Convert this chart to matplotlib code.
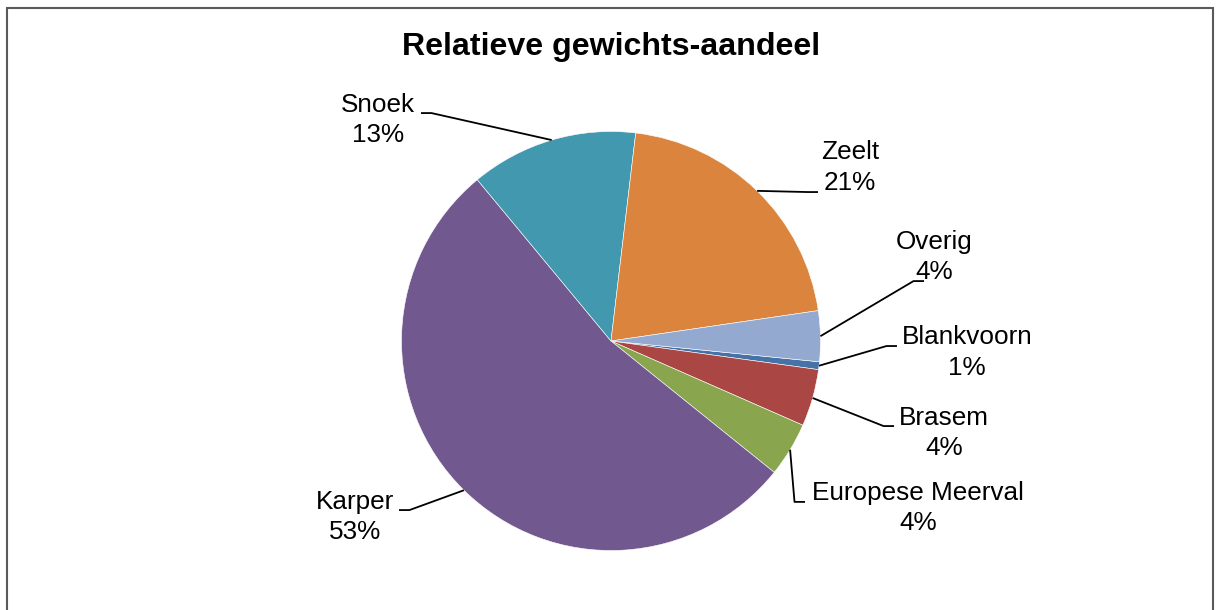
import numpy as np
import matplotlib
matplotlib.use("Agg")
import matplotlib.pyplot as plt
from matplotlib.patches import Rectangle

plt.rcParams['font.family'] = ['Liberation Sans', 'DejaVu Sans']

# gewichts-aandeel per soort (%), in volgorde van de gegevens
soorten = ['Blankvoorn', 'Brasem', 'Europese Meerval', 'Karper', 'Snoek', 'Zeelt', 'Overig']
aandeel = [0.6, 4.4, 4.2, 53.2, 12.9, 20.8, 3.9]
kleuren = ['#4572A7', '#AA4643', '#89A54E', '#71588F', '#4198AF', '#DB843D', '#93A9CF']

# plaats van de labels (midden van het tekstblok) en eind van de verbindingslijn
label_pos = [(1.699, -0.055), (1.589, -0.439), (1.465, -0.797), (-1.222, -0.838),
             (-1.112, 1.055), (1.141, 0.828), (1.542, 0.399)]
lijn_eind = [(1.365, -0.024), (1.351, -0.406), (0.926, -0.768), (-1.012, -0.807),
             (-0.907, 1.088), (0.988, 0.711), (1.494, 0.286)]

W, H = 1219, 610
fig = plt.figure(figsize=(W / 100, H / 100), dpi=100)

# taart: middelpunt (611, 341) px, straal 209.5 px
cx, cy, r = 611, 341, 209.5
ax = fig.add_axes([(cx - r) / W, (H - cy - r) / H, 2 * r / W, 2 * r / H])
wedges, _ = ax.pie(aandeel, colors=kleuren, startangle=-5.7, counterclock=False,
                   radius=1, wedgeprops=dict(edgecolor='white', linewidth=0.4))
ax.set_xlim(-1, 1)
ax.set_ylim(-1, 1)
ax.set_aspect('auto')
ax.axis('off')

for w, naam, waarde, lp, le in zip(wedges, soorten, aandeel, label_pos, lijn_eind):
    hoek = np.deg2rad((w.theta1 + w.theta2) / 2)
    x0, y0 = np.cos(hoek), np.sin(hoek)
    richting = 1 if le[0] > 0 else -1
    knik = (le[0] - richting * 0.05, le[1])
    ax.plot([x0, knik[0], le[0]], [y0, knik[1], le[1]], color='black', lw=1.3,
            clip_on=False, solid_capstyle='butt')
    ax.text(lp[0], lp[1], f"{naam}\n{round(waarde):.0f}%", ha='center', va='center',
            fontsize=18.8, linespacing=1.32, clip_on=False)

fig.text(611 / W, 1 - 47 / H, 'Relatieve gewichts-aandeel', ha='center', va='center',
         fontsize=23.1, fontweight='bold')

# kader om de grafiek
fig.patches.append(Rectangle((6.5 / W, -0.05), (1213 - 6.5) / W, 1.05 - 7.5 / H,
                             transform=fig.transFigure, fill=False,
                             edgecolor='#5a5a5a', linewidth=1.5))

fig.savefig('out.png', dpi=100)
